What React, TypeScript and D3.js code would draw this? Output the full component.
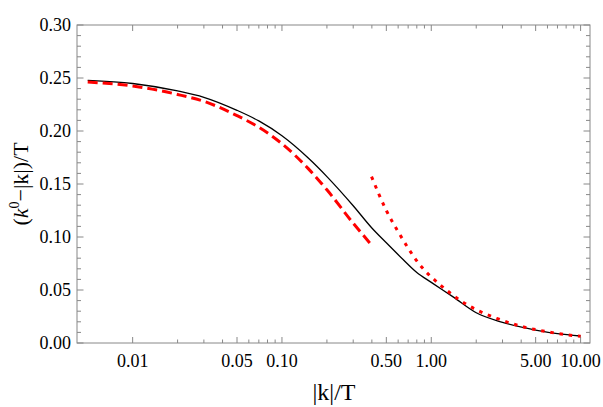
import React from "react";
import * as d3 from "d3";

const W = 603;
const H = 407;

// Black solid curve (exact)
const exactK = [0.005, 0.01, 0.02, 0.03, 0.05, 0.07, 0.1, 0.15, 0.2, 0.3, 0.4, 0.5, 0.65, 0.8, 1.0, 1.4, 2.0, 3.0, 5.0, 7.0, 10.0];
const exactV = [0.2478, 0.2448, 0.2378, 0.2318, 0.2195, 0.2095, 0.1955, 0.1745, 0.157, 0.1295, 0.1085, 0.0945, 0.0785, 0.0665, 0.0572, 0.0435, 0.0285, 0.0195, 0.0122, 0.0088, 0.0066];

// Red dashed curve (small-k expansion)
const smallK = [0.005, 0.01, 0.02, 0.03, 0.05, 0.07, 0.1, 0.15, 0.2, 0.3, 0.398];
const smallV = [0.2462, 0.2425, 0.2345, 0.228, 0.2145, 0.2035, 0.188, 0.1645, 0.1445, 0.113, 0.0925];

// Red dotted curve (large-k expansion)
const largeK = [0.398, 0.5, 0.6, 0.84, 1.14, 1.52, 2.0, 2.74, 4.0, 5.93, 8.93, 10.0];
const largeV = [0.157, 0.125, 0.105, 0.0736, 0.0552, 0.0414, 0.0314, 0.0233, 0.0157, 0.0107, 0.007, 0.0063];

const xMajor = [0.01, 0.05, 0.1, 0.5, 1, 5, 10];
const xMajorLabels = ["0.01", "0.05", "0.10", "0.50", "1.00", "5.00", "10.00"];
const yMajor = [0, 0.05, 0.1, 0.15, 0.2, 0.25, 0.3];
const yMajorLabels = ["0.00", "0.05", "0.10", "0.15", "0.20", "0.25", "0.30"];

export default function App() {
  const left = 77, right = 590, top = 25, bottom = 343;
  const x = d3.scaleLog().domain([0.00424, 11.56]).range([left, right]);
  const y = d3.scaleLinear().domain([0, 0.3]).range([bottom, top]);

  const xMinor: number[] = [];
  [0.01, 0.1, 1].forEach((d) => {
    [2, 3, 4, 6, 7, 8, 9].forEach((m) => xMinor.push(d * m));
  });
  const yMinor: number[] = [];
  for (let i = 1; i < 30; i++) if (i % 5 !== 0) yMinor.push(i / 100);

  const line = d3
    .line<[number, number]>()
    .x((d) => x(d[0]))
    .y((d) => y(d[1]))
    .curve(d3.curveMonotoneX);

  const exact = line(exactK.map((k, i) => [k, exactV[i]]) as [number, number][]) || "";
  const small = line(smallK.map((k, i) => [k, smallV[i]]) as [number, number][]) || "";
  const large = line(largeK.map((k, i) => [k, largeV[i]]) as [number, number][]) || "";

  const axisColor = "#888888";
  const font = "Liberation Serif, Times New Roman, serif";

  return (
    <svg
      width={W}
      height={H}
      style={{ position: "absolute", left: 0, top: 0, background: "#fff" }}
    >
      <rect x={0} y={0} width={W} height={H} fill="#fff" />
      <defs>
        <clipPath id="plotclip">
          <rect x={left} y={top} width={right - left} height={bottom - top} />
        </clipPath>
      </defs>
      <rect
        x={left}
        y={top}
        width={right - left}
        height={bottom - top}
        fill="none"
        stroke={axisColor}
        strokeWidth={1}
      />
      {xMajor.map((v) => (
        <g key={"xM" + v}>
          <line x1={x(v)} x2={x(v)} y1={bottom} y2={bottom - 6} stroke={axisColor} />
          <line x1={x(v)} x2={x(v)} y1={top} y2={top + 6} stroke={axisColor} />
        </g>
      ))}
      {xMinor.map((v) => (
        <g key={"xm" + v}>
          <line x1={x(v)} x2={x(v)} y1={bottom} y2={bottom - 3.5} stroke={axisColor} />
          <line x1={x(v)} x2={x(v)} y1={top} y2={top + 3.5} stroke={axisColor} />
        </g>
      ))}
      {yMajor.map((v) => (
        <g key={"yM" + v}>
          <line x1={left} x2={left + 6.5} y1={y(v)} y2={y(v)} stroke={axisColor} />
          <line x1={right} x2={right - 6.5} y1={y(v)} y2={y(v)} stroke={axisColor} />
        </g>
      ))}
      {yMinor.map((v) => (
        <g key={"ym" + v}>
          <line x1={left} x2={left + 4} y1={y(v)} y2={y(v)} stroke={axisColor} />
          <line x1={right} x2={right - 4} y1={y(v)} y2={y(v)} stroke={axisColor} />
        </g>
      ))}
      {xMajor.map((v, i) => (
        <text
          key={"xl" + v}
          x={x(v)}
          y={366.5}
          textAnchor="middle"
          fontFamily={font}
          fontSize={18}
          fill="#000"
        >
          {xMajorLabels[i]}
        </text>
      ))}
      {yMajor.map((v, i) => (
        <text
          key={"yl" + v}
          x={71}
          y={y(v) + 6}
          textAnchor="end"
          fontFamily={font}
          fontSize={18}
          fill="#000"
        >
          {yMajorLabels[i]}
        </text>
      ))}
      <g clipPath="url(#plotclip)" fill="none">
        <path d={exact} stroke="#000" strokeWidth={1.3} />
        <path d={small} stroke="#ff0000" strokeWidth={3} strokeDasharray="10,5" />
        <path d={large} stroke="#ff0000" strokeWidth={3} strokeDasharray="3.5,5.8" />
      </g>
      <text
        x={334}
        y={400}
        textAnchor="middle"
        fontFamily={font}
        fontSize={24}
        fill="#000"
      >
        |k|/T
      </text>
      <text
        transform="translate(28,184) rotate(-90)"
        textAnchor="middle"
        fontFamily={font}
        fontSize={22}
        fill="#000"
      >
        (<tspan fontStyle="italic">k</tspan>
        <tspan dy={-9} fontSize={14}>0</tspan>
        <tspan dy={9}>{"\u2212|k|)/T"}</tspan>
      </text>
    </svg>
  );
}
